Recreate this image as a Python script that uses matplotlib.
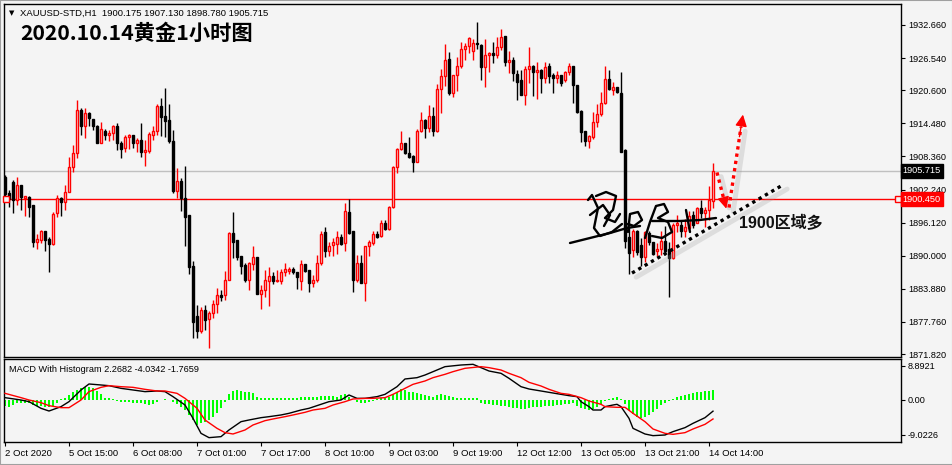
import matplotlib
matplotlib.use("Agg")
import matplotlib.pyplot as plt
from matplotlib.patches import Rectangle
from matplotlib.transforms import offset_copy
import numpy as np

W, H = 953, 465
BG = "#f4f4f4"
plt.rcParams.update({"font.family": ["Liberation Sans", "Noto Sans CJK SC", "DejaVu Sans"]})

# ---- XAUUSD H1 candles ----
opens = [1904.6, 1901.6, 1903.7, 1900.3, 1903.1, 1900.7, 1900.9, 1899.3, 1892.6, 1892.9,
         1894.6, 1893.0, 1892.2, 1897.9, 1900.7, 1900.0, 1901.8, 1906.4, 1908.9, 1916.9,
         1914.0, 1916.3, 1915.2, 1914.0, 1910.8, 1913.1, 1912.4, 1912.6, 1914.0, 1910.9,
         1909.9, 1912.0, 1912.3, 1910.9, 1911.4, 1909.2, 1909.4, 1912.3, 1913.0, 1917.6,
         1915.8, 1915.1, 1911.2, 1902.0, 1903.8, 1900.6, 1897.5, 1888.1, 1878.8, 1876.0,
         1880.0, 1878.3, 1879.4, 1881.0, 1882.8, 1882.7, 1885.6, 1894.2, 1892.9, 1890.0,
         1888.3, 1885.5, 1888.4, 1889.7, 1883.0, 1883.6, 1885.4, 1886.3, 1885.3, 1885.3,
         1886.9, 1887.2, 1887.5, 1886.9, 1885.3, 1888.4, 1887.3, 1885.0, 1885.5, 1888.6,
         1894.3, 1890.8, 1891.9, 1892.2, 1893.5, 1892.3, 1898.1, 1894.6, 1885.6, 1888.7,
         1885.0, 1891.8, 1892.4, 1894.1, 1893.6, 1896.1, 1894.9, 1899.1, 1906.4, 1909.7,
         1910.8, 1909.0, 1908.4, 1907.4, 1913.0, 1915.1, 1913.7, 1915.9, 1913.0, 1920.8,
         1923.2, 1926.3, 1920.1, 1923.5, 1925.0, 1928.2, 1928.8, 1927.9, 1929.4, 1929.0,
         1924.8, 1927.1, 1927.5, 1927.1, 1928.5, 1930.6, 1925.9, 1926.2, 1923.6, 1922.4,
         1919.7, 1924.5, 1925.1, 1924.0, 1924.3, 1922.9, 1925.0, 1923.4, 1922.9, 1923.4,
         1922.4, 1924.0, 1925.1, 1921.6, 1916.8, 1913.1, 1911.3, 1911.9, 1914.7, 1916.2,
         1918.3, 1922.6, 1920.7, 1921.2, 1920.1, 1909.5, 1893.5, 1891.0, 1894.5, 1892.0,
         1889.8, 1894.2, 1892.5, 1890.8, 1891.3, 1892.7, 1891.2, 1889.6, 1895.6, 1895.6,
         1894.5, 1895.1, 1897.5, 1896.1, 1898.9, 1897.9, 1898.4, 1900.175]
highs = [1905.0, 1902.1, 1904.0, 1904.5, 1903.1, 1901.1, 1901.1, 1899.4, 1894.1, 1894.8,
         1894.6, 1893.5, 1898.1, 1901.2, 1900.9, 1903.1, 1908.2, 1910.5, 1918.8, 1917.4,
         1917.4, 1916.6, 1915.2, 1914.2, 1914.8, 1913.4, 1913.2, 1914.2, 1914.6, 1911.3,
         1912.3, 1912.5, 1912.3, 1911.7, 1914.6, 1911.4, 1912.9, 1913.9, 1918.1, 1919.2,
         1921.1, 1918.1, 1913.2, 1906.2, 1904.3, 1906.5, 1897.5, 1889.0, 1880.9, 1880.6,
         1880.9, 1879.7, 1881.9, 1884.1, 1883.7, 1887.2, 1894.4, 1898.1, 1892.9, 1890.0,
         1888.6, 1888.9, 1891.8, 1889.7, 1884.5, 1887.3, 1887.9, 1887.0, 1887.3, 1887.6,
         1888.6, 1888.0, 1887.9, 1887.0, 1889.3, 1888.4, 1887.3, 1886.4, 1890.1, 1894.5,
         1895.4, 1892.6, 1893.2, 1894.5, 1894.1, 1899.7, 1900.4, 1894.6, 1890.1, 1890.1,
         1891.8, 1892.9, 1894.5, 1894.6, 1896.6, 1896.6, 1899.2, 1906.6, 1910.0, 1913.0,
         1910.9, 1912.0, 1908.6, 1913.5, 1916.6, 1915.2, 1917.9, 1917.5, 1921.8, 1924.6,
         1929.1, 1927.7, 1923.4, 1926.8, 1929.5, 1929.3, 1930.4, 1930.0, 1933.3, 1929.1,
         1930.0, 1927.7, 1929.6, 1930.4, 1931.9, 1930.7, 1927.9, 1926.8, 1924.3, 1924.3,
         1925.0, 1928.5, 1925.3, 1925.9, 1924.6, 1925.9, 1925.6, 1923.7, 1924.2, 1923.4,
         1924.2, 1925.6, 1925.1, 1921.6, 1917.0, 1913.1, 1912.3, 1916.6, 1918.1, 1920.3,
         1925.1, 1924.3, 1922.2, 1921.2, 1924.0, 1909.7, 1895.5, 1895.0, 1894.8, 1893.2,
         1894.6, 1894.6, 1892.6, 1892.4, 1894.5, 1895.5, 1892.6, 1896.0, 1897.5, 1896.4,
         1896.8, 1898.3, 1898.3, 1899.1, 1900.3, 1899.1, 1902.8, 1907.13]
lows = [1901.0, 1899.0, 1897.9, 1899.4, 1898.5, 1897.4, 1897.2, 1891.7, 1891.3, 1892.3,
        1890.9, 1886.9, 1891.9, 1897.1, 1897.4, 1898.5, 1901.8, 1905.4, 1908.0, 1912.3,
        1911.8, 1913.9, 1913.2, 1910.8, 1910.8, 1911.4, 1911.3, 1911.4, 1909.5, 1908.1,
        1909.1, 1909.7, 1910.0, 1909.1, 1908.2, 1906.5, 1908.9, 1911.4, 1912.3, 1912.1,
        1911.9, 1910.9, 1901.6, 1900.6, 1898.3, 1891.8, 1886.7, 1874.7, 1874.7, 1875.8,
        1876.3, 1872.9, 1878.4, 1879.4, 1881.7, 1881.8, 1885.5, 1889.5, 1889.2, 1886.6,
        1885.2, 1883.7, 1887.3, 1882.9, 1880.1, 1882.4, 1880.7, 1884.8, 1885.1, 1884.8,
        1886.2, 1886.7, 1886.7, 1883.9, 1883.7, 1887.0, 1883.2, 1884.3, 1885.2, 1888.3,
        1889.8, 1890.0, 1890.0, 1890.4, 1891.9, 1890.9, 1894.1, 1883.2, 1885.2, 1884.9,
        1881.7, 1890.0, 1891.9, 1893.2, 1893.4, 1894.7, 1894.7, 1898.9, 1905.3, 1909.5,
        1908.8, 1908.0, 1905.5, 1907.4, 1912.8, 1911.7, 1912.9, 1912.2, 1912.8, 1916.4,
        1921.4, 1919.7, 1919.3, 1920.5, 1924.7, 1926.2, 1927.4, 1926.2, 1928.3, 1922.5,
        1921.2, 1924.0, 1925.6, 1926.5, 1928.0, 1925.1, 1923.8, 1922.3, 1918.8, 1919.7,
        1917.9, 1922.0, 1919.6, 1918.9, 1920.1, 1922.0, 1921.9, 1920.1, 1922.0, 1921.4,
        1922.2, 1923.4, 1918.3, 1916.4, 1911.1, 1910.3, 1910.0, 1911.5, 1913.8, 1915.8,
        1918.0, 1920.7, 1919.7, 1920.0, 1909.2, 1891.5, 1886.6, 1889.8, 1890.2, 1888.1,
        1888.8, 1891.9, 1890.1, 1890.0, 1890.2, 1890.2, 1882.4, 1889.4, 1894.4, 1893.5,
        1893.5, 1894.8, 1895.2, 1896.0, 1896.9, 1895.3, 1896.6, 1898.78]
closes = [1901.5, 1900.4, 1900.3, 1903.1, 1900.8, 1901.0, 1899.1, 1892.6, 1893.0, 1894.6,
          1892.9, 1892.2, 1897.8, 1900.7, 1900.0, 1901.8, 1906.4, 1908.9, 1916.9, 1914.0,
          1916.3, 1915.4, 1914.0, 1910.8, 1913.4, 1912.3, 1912.7, 1914.0, 1910.8, 1909.7,
          1911.9, 1912.3, 1910.8, 1911.4, 1909.2, 1909.6, 1912.5, 1913.1, 1917.6, 1915.6,
          1914.9, 1911.2, 1901.9, 1903.8, 1900.6, 1897.2, 1887.9, 1877.8, 1876.0, 1880.0,
          1878.1, 1879.4, 1881.0, 1882.7, 1882.4, 1885.6, 1894.2, 1892.6, 1889.8, 1888.1,
          1885.5, 1888.6, 1889.7, 1883.0, 1883.6, 1885.6, 1886.3, 1885.3, 1885.6, 1887.0,
          1887.6, 1887.5, 1886.9, 1886.1, 1888.4, 1887.2, 1885.0, 1885.5, 1888.6, 1894.1,
          1890.8, 1891.8, 1892.6, 1893.5, 1892.1, 1898.2, 1894.2, 1885.5, 1888.6, 1885.0,
          1891.8, 1892.6, 1894.1, 1893.4, 1896.1, 1895.0, 1899.1, 1906.4, 1909.7, 1910.8,
          1909.0, 1908.3, 1907.4, 1913.1, 1915.1, 1913.7, 1915.9, 1913.0, 1920.8, 1923.2,
          1926.2, 1920.1, 1923.4, 1925.1, 1928.2, 1928.8, 1930.2, 1929.3, 1929.1, 1924.9,
          1927.1, 1927.5, 1927.2, 1928.5, 1930.4, 1925.9, 1926.2, 1923.7, 1922.2, 1919.7,
          1924.5, 1925.0, 1924.0, 1924.3, 1922.9, 1924.8, 1923.3, 1922.9, 1923.4, 1922.0,
          1923.9, 1925.1, 1921.6, 1916.6, 1912.9, 1911.3, 1912.1, 1914.7, 1916.2, 1918.3,
          1922.6, 1920.9, 1921.2, 1920.2, 1909.2, 1892.8, 1890.5, 1894.6, 1890.6, 1889.8,
          1894.3, 1892.5, 1890.3, 1891.3, 1892.7, 1890.8, 1889.6, 1895.7, 1896.0, 1894.5,
          1895.4, 1897.4, 1895.7, 1898.9, 1897.9, 1898.4, 1900.3, 1905.715]

# ---- MACD pane ----
hist = [-1.5, -1.7, -1.3, -0.9, -0.7, -0.7, -0.9, -1.3, -1.5, -1.6, -1.7, -1.9, -1.6, -0.7,
        0.2, 0.6, 1.3, 2.0, 2.6, 3.0, 3.3, 3.5, 3.0, 2.3, 1.5, 0.6, 0.4, 0.3,
        -0.3, -0.4, -0.4, -0.6, -0.7, -0.7, -0.9, -1.0, -1.3, -1.1, -0.4, 0.0, 0.2, 0.0,
        -0.4, -1.1, -1.7, -2.6, -3.9, -5.2, -6.5, -6.1, -5.6, -5.2, -4.3, -3.5, -2.2, -0.4,
        1.5, 2.3, 2.6, 2.3, 2.2, 2.0, 1.7, 0.9, 0.6,
        0.6, 0.6, 0.6, 0.6, 0.6, 0.6, 0.6, 0.6, 0.6, 0.7, 0.7, 0.7, 0.8,
        0.9, 1.0, 1.1, 1.1, 1.1, 0.9, 1.3, 1.5, 0.9,
        0.0, -0.4, -0.9, -0.9, -0.4, -0.3, 0.2, 0.4, 0.6, 0.9,
        1.5, 2.0, 2.8, 2.6, 2.2, 2.0, 1.7, 1.5, 1.3, 1.1, 0.9, 1.3, 1.5, 1.3, 1.1, 0.9,
        0.6, 0.6, 0.6, 0.6, 0.6, 0.6,
        -0.9, -1.0, -1.1, -1.3, -1.4, -1.5, -1.6, -1.8, -2.0, -2.2, -2.3, -2.3, -2.1, -1.9,
        -1.8, -1.7, -1.6, -1.6, -1.5, -1.4, -1.2, -1.1, -1.0, -0.9, -1.5, -2.0, -2.4, -2.5,
        -2.3, -1.8, -1.0, -0.3, 0.3, 0.6, 0.8, 0.2, -1.0, -2.5, -3.6, -4.3, -4.6, -4.4,
        -3.8, -3.0, -2.3, -1.4, -0.8, -0.3, 0.3, 0.7, 1.0, 1.3, 1.6, 1.8, 2.0, 2.2, 2.3,
        2.4, 2.5]
macd_bar = [0, 4, 6, 9, 11, 14, 16, 19, 21, 24, 26, 29, 32, 35, 38, 40, 42, 45, 47, 49,
            51, 54, 56, 59, 61, 64, 66, 69, 71, 74, 76, 79, 81, 84, 86, 88, 90, 93, 95, 98,
            100, 103, 105, 108, 110, 114, 117, 119, 121, 124, 126, 129, 131, 134, 136, 139,
            141, 143, 144, 146, 147, 149, 150, 152, 153, 154, 156, 157, 160, 162, 165, 167,
            170, 172, 175, 177]
macd_val = [0.61, 0.00, -0.43, -2.16, -2.86, -1.73, -0.43, 2.60, 4.16, 3.90, 3.72, 3.03,
            2.60, 2.17, 2.34, 2.17, 0.87, -1.30, -4.76, -8.66, -9.78, -9.52, -7.79, -5.63,
            -5.19, -4.59, -4.33, -3.89, -3.46, -2.60, -2.16, -1.12, -0.43, 0.00, 1.30, 0.43,
            0.43, 0.87, 1.47, 3.46, 5.46, 5.80, 6.49, 7.79, 8.66, 9.09, 9.27, 8.40, 7.53,
            6.93, 5.63, 3.46, 2.86, 2.34, 1.99, 1.47, 1.13, 0.87, -0.43, -1.73, -2.60, -2.60,
            -1.73, -1.30, -1.12, -1.73, -4.76, -7.36, -8.83, -9.26, -9.09, -8.22, -7.18,
            -6.06, -4.59, -2.90]
sig_bar = [0, 4, 6, 9, 11, 14, 16, 19, 21, 24, 26, 29, 32, 35, 38, 40, 43, 45, 48, 50,
           53, 55, 57, 60, 62, 65, 67, 70, 72, 75, 77, 80, 82, 85, 87, 90, 92, 95, 97, 100,
           102, 105, 107, 110, 112, 115, 119, 121, 124, 126, 129, 131, 134, 136, 139, 141,
           144, 146, 149, 150, 153, 155, 157, 160, 162, 165, 167, 170, 172, 175, 177]
sig_val = [1.73, 0.61, 0.00, -0.69, -1.47, -1.99, -1.99, 0.00, 2.17, 3.29, 3.72, 3.46,
           3.29, 2.77, 2.34, 2.34, 1.73, 0.43, -2.16, -5.19, -7.36, -8.48, -8.83, -7.79,
           -6.49, -5.37, -4.93, -4.33, -3.89, -3.20, -2.60, -2.16, -1.30, -0.43, 0.26, 0.43,
           0.43, 0.61, 1.47, 3.03, 4.07, 4.94, 5.80, 6.67, 7.36, 8.23, 8.66, 8.40, 7.79,
           6.93, 5.80, 4.59, 3.64, 2.77, 1.73, 1.47, 0.61, -0.26, -1.12, -1.73, -1.90,
           -1.90, -3.46, -5.63, -7.53, -8.66, -8.92, -8.48, -7.53, -6.32, -4.93]

price_ticks = [1932.66, 1926.54, 1920.60, 1914.48, 1908.36, 1902.24, 1896.12, 1890.00,
               1883.88, 1877.76, 1871.82]
macd_ticks = [8.8921, 0.0, -9.0226]
macd_tick_labels = ["8.8921", "0.00", "-9.0226"]
time_labels = ["2 Oct 2020", "5 Oct 15:00", "6 Oct 08:00", "7 Oct 01:00", "7 Oct 17:00",
               "8 Oct 10:00", "9 Oct 03:00", "9 Oct 19:00", "12 Oct 12:00", "13 Oct 05:00",
               "13 Oct 21:00", "14 Oct 14:00"]
bid_price = 1905.715
level_price = 1900.45

fig = plt.figure(figsize=(W / 100, H / 100), dpi=100, facecolor=BG)


def px_axes(x0, y0, x1, y1):
    return fig.add_axes([x0 / W, 1 - y1 / H, (x1 - x0) / W, (y1 - y0) / H])


def fig_xy(x, y):
    return x / W, 1 - y / H


ax = px_axes(4, 4, 901, 356.7)
axm = px_axes(4, 359, 901, 442)
for a in (ax, axm):
    a.set_facecolor(BG)
    a.set_xlim(-0.25, 224)
    for s in a.spines.values():
        s.set_linewidth(1.0)
        s.set_color("black")

# ---- candles ----
o, hi, lo, c = map(np.array, (opens, highs, lows, closes))
idx = np.arange(len(o))
up = c >= o
ax.vlines(idx[up], lo[up], hi[up], color="red", lw=1, zorder=2)
ax.vlines(idx[~up], lo[~up], hi[~up], color="black", lw=1, zorder=2)
bot = np.minimum(o, c)
bh = np.maximum(np.abs(c - o), 0.15)
ax.bar(idx[up], bh[up], bottom=bot[up], width=0.55, facecolor=BG, edgecolor="red",
       lw=1.0, zorder=3)
ax.bar(idx[~up], bh[~up], bottom=bot[~up], width=0.55, facecolor="black",
       edgecolor="black", lw=1.0, zorder=3)

ax.axhline(bid_price, color="#c0c0c0", lw=1, zorder=1)
ax.axhline(level_price, color="red", lw=1, zorder=1)
for xx in (0.0025, 0.9965):
    ax.plot([xx], [level_price], marker="s", ms=4, mfc=BG, mec="red", mew=1,
            transform=ax.get_yaxis_transform(), clip_on=False, zorder=4)

ax.set_ylim(1871.33, 1936.54)
ax.yaxis.tick_right()
ax.set_yticks(price_ticks)
ax.set_yticklabels([f"{v:.3f}" for v in price_ticks])
ax.tick_params(axis="y", length=3, width=0.8, pad=2, labelsize=6.6)
ax.set_xticks([])

ytr = ax.get_yaxis_transform()
ax.text(1.002, bid_price, f"{bid_price:.3f}", transform=ytr, ha="left", va="center",
        fontsize=6.6, color="white", zorder=6,
        bbox=dict(boxstyle="square,pad=0.25", fc="black", ec="black"))
ax.text(1.002, level_price, f"{level_price:.3f}", transform=ytr, ha="left", va="center",
        fontsize=6.6, color="white", zorder=6,
        bbox=dict(boxstyle="square,pad=0.25", fc="red", ec="red"))

# ---- annotations: trend line, red arrows, text ----
shadow_tr = offset_copy(ax.transData, fig=fig, x=3, y=-3, units="points")
dotted = [([156.75, 194.5], [1886.8, 1903.1], "black"),
          ([178.0, 180.0], [1905.4, 1899.6], "red"),
          ([181.0, 184.0], [1898.9, 1913.8], "red")]
for xs, ys, col in dotted:
    ax.plot(xs, ys, color="#9a9a9a", lw=3.5, alpha=0.25, transform=shadow_tr,
            solid_capstyle="round", zorder=4)
    ax.plot(xs, ys, color=col, lw=2.4, linestyle=(0, (1, 1.2)), zorder=5)
for (x0, y0), (x1, y1) in [((179.5, 1901.0), (180.5, 1898.2)),
                           ((183.5, 1911.5), (184.6, 1916.6))]:
    ax.annotate("", xy=(x1, y1), xytext=(x0, y0),
                arrowprops=dict(arrowstyle="-|>,head_length=0.7,head_width=0.35",
                                color="red", lw=1), zorder=6)
ax.text(183.5, 1896.0, "1900区域多", fontsize=11.5, fontweight="bold", color="#111111",
        ha="left", va="center", zorder=6)

# signature watermark (hand-drawn strokes, pixel coords)
strokes = [
    [(570, 243), (590, 238), (610, 233), (627, 228), (640, 226)],
    [(588, 200), (592, 195), (598, 208), (594, 228), (600, 236), (612, 232), (622, 224)],
    [(596, 196), (606, 192), (616, 196), (613, 210), (605, 218), (615, 222), (620, 214)],
    [(590, 215), (603, 205), (610, 215), (604, 226)],
    [(628, 232), (630, 214), (638, 212), (642, 220), (634, 226), (628, 224)],
    [(645, 238), (650, 222), (656, 206), (664, 204), (668, 212), (658, 218), (668, 222),
     (672, 232), (662, 238), (652, 236)],
    [(652, 221), (680, 221), (700, 220), (716, 218)],
    [(686, 210), (690, 232)],
]
for st in strokes:
    xs, ys = zip(*[fig_xy(x, y) for x, y in st])
    fig.add_artist(plt.Line2D(xs, ys, color="black", lw=1.7, solid_capstyle="round",
                              solid_joinstyle="round", zorder=7))

# ---- MACD ----
axm.bar(idx, hist, width=0.7, color="#00ff00", zorder=2)
axm.plot(macd_bar, macd_val, color="black", lw=1, zorder=3)
axm.plot(sig_bar, sig_val, color="red", lw=1, zorder=3)
axm.set_ylim(-10.91, 10.65)
axm.yaxis.tick_right()
axm.set_yticks(macd_ticks)
axm.set_yticklabels(macd_tick_labels)
axm.tick_params(axis="y", length=3, width=0.8, pad=2, labelsize=6.6)
axm.set_xticks(np.arange(len(time_labels)) * 16)
axm.set_xticklabels(time_labels, ha="left")
axm.tick_params(axis="x", length=3, width=0.8, pad=2, labelsize=6.8)
axm.text(0.006, 0.93, "MACD With Histogram 2.2682 -4.0342 -1.7659", transform=axm.transAxes,
         fontsize=6.6, ha="left", va="top")

# ---- titles ----
fig.text(*fig_xy(9, 13), "▼", fontsize=5, family="DejaVu Sans", va="center")
fig.text(*fig_xy(20, 13), "XAUUSD-STD,H1  1900.175 1907.130 1898.780 1905.715",
         fontsize=6.8, va="center")
fig.text(*fig_xy(20, 33), "2020.10.14黄金1小时图", fontsize=15.3, fontweight="bold",
         family=["Noto Sans CJK SC"], va="center")

fig.add_artist(Rectangle((0, 0), 1, 1, transform=fig.transFigure, fill=False,
                         ec="#a0a0a0", lw=1.5))
fig.savefig("out.png", dpi=100, facecolor=BG)
